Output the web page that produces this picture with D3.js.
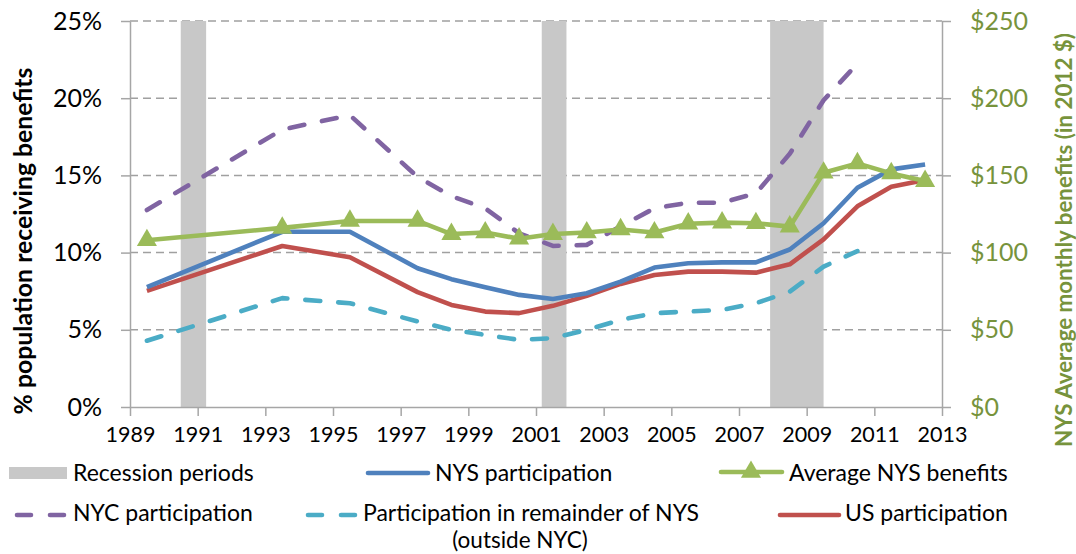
<!DOCTYPE html>
<html><head><meta charset="utf-8">
<script src="https://cdn.jsdelivr.net/npm/d3@7"></script>
<style>
body{margin:0;background:#fff}
text{font-family:Lato,"Open Sans",sans-serif}
</style>
</head><body>
<svg id="c" width="1076" height="554"></svg>
<script>
// ---------------- data ----------------
const years = [1989, 1993, 1995, 1997, 1998, 1999, 2000, 2001, 2002, 2003, 2004, 2005, 2006, 2007, 2008, 2009, 2010, 2011, 2012];
const nysParticipation = [7.76, 11.35, 11.35, 8.99, 8.28, 7.76, 7.26, 7.0, 7.37, 8.12, 9.03, 9.31, 9.37, 9.37, 10.2, 11.9, 14.2, 15.39, 15.7];
const usParticipation  = [7.52, 10.43, 9.7, 7.44, 6.61, 6.18, 6.08, 6.55, 7.2, 7.97, 8.55, 8.77, 8.77, 8.7, 9.24, 10.86, 13.0, 14.26, 14.7];
const nycParticipation = [12.76, 17.97, 18.9, 14.9, 13.66, 12.87, 11.25, 10.43, 10.5, 11.7, 12.87, 13.23, 13.23, 13.84, 16.4, 19.87, 22.24, null, null];
const remainderParticipation = [4.29, 7.05, 6.72, 5.54, 5.0, 4.67, 4.35, 4.46, 5.0, 5.64, 6.08, 6.18, 6.29, 6.72, 7.47, 9.09, 10.1, null, null];
const avgBenefits = [108, 116, 120.5, 120.5, 112, 113, 109, 112, 113, 115, 113, 118.7, 119.4, 119, 116.8, 151.7, 157.8, 151.3, 146.3];
const recessions = [[1990.5, 1991.25], [2001.17, 2001.9], [2007.92, 2009.5]];
const xTicks = [1989, 1991, 1993, 1995, 1997, 1999, 2001, 2003, 2005, 2007, 2009, 2011, 2013];
const leftTicks = [0, 5, 10, 15, 20, 25];
const rightTicks = [0, 50, 100, 150, 200, 250];

// ---------------- styles ----------------
const C = {blue:"#4f81bd", red:"#c0504d", green:"#9bbb59", purple:"#8064a2", teal:"#4bacc6",
           rec:"#c8c8c8", axis:"#a6a6a6", grid:"#a0a0a0", dkgreen:"#77933c"};
const DASH = "15,18";

const svg = d3.select("#c");
const x = d3.scaleLinear().domain([1989, 2013]).range([130, 942]);
const yL = d3.scaleLinear().domain([0, 25]).range([407, 21]);
const yR = d3.scaleLinear().domain([0, 250]).range([407, 21]);
const mid = y => y + 0.5;

// gridlines
svg.append("g").selectAll("line").data(leftTicks.filter(d => d > 0)).join("line")
  .attr("x1", x.range()[0]).attr("x2", x.range()[1])
  .attr("y1", d => yL(d)).attr("y2", d => yL(d))
  .attr("stroke", C.grid).attr("stroke-width", 1.5).attr("stroke-dasharray", "8,5");

// recession bars
svg.append("g").selectAll("rect").data(recessions).join("rect")
  .attr("x", d => x(d[0])).attr("width", d => x(d[1]) - x(d[0]))
  .attr("y", yL(25)).attr("height", yL(0) - yL(25)).attr("fill", C.rec);

// axes
function styleAxis(g, size, color) {
  g.selectAll(".domain").attr("stroke", C.axis).attr("stroke-width", 1.5);
  g.selectAll(".tick line").attr("stroke", C.axis).attr("stroke-width", 1.5);
  g.selectAll(".tick text").attr("font-size", size).attr("fill", color).style("font-family", "Lato");
}
svg.append("g").attr("transform", `translate(${x.range()[0]},0)`)
  .call(d3.axisLeft(yL).tickValues(leftTicks).tickFormat(d => d + "%").tickSize(9).tickSizeOuter(0).tickPadding(19))
  .call(g => styleAxis(g, 25, "#000"));
svg.append("g").attr("transform", `translate(${x.range()[1]},0)`)
  .call(d3.axisRight(yR).tickValues(rightTicks).tickFormat(d => "$" + d).tickSize(9).tickSizeOuter(0).tickPadding(19))
  .call(g => styleAxis(g, 25, C.dkgreen));
svg.append("g").attr("transform", `translate(0,${yL(0)})`)
  .call(d3.axisBottom(x).tickValues(xTicks).tickFormat(d3.format("d")).tickSize(9).tickSizeOuter(0).tickPadding(11))
  .call(g => styleAxis(g, 21.5, "#000"));

// lines
function series(vals) { return years.map((yr, i) => [yr, vals[i]]); }
function drawLine(vals, yScale, color, dashed) {
  const line = d3.line().defined(d => d[1] != null).x(d => x(mid(d[0]))).y(d => yScale(d[1]));
  svg.append("path").datum(series(vals)).attr("d", line)
    .attr("fill", "none").attr("stroke", color).attr("stroke-width", 4.6)
    .attr("stroke-linejoin", "round").attr("stroke-linecap", dashed ? "round" : "butt")
    .attr("stroke-dasharray", dashed ? DASH : null);
}
drawLine(nycParticipation, yL, C.purple, true);
drawLine(remainderParticipation, yL, C.teal, true);
drawLine(usParticipation, yL, C.red, false);
drawLine(nysParticipation, yL, C.blue, false);
drawLine(avgBenefits, yR, C.green, false);
const tri = d3.symbol().type(d3.symbolTriangle).size(175);
svg.append("g").selectAll("path").data(series(avgBenefits)).join("path")
  .attr("d", tri).attr("transform", d => `translate(${x(mid(d[0]))},${yR(d[1])})`)
  .attr("fill", C.green);

// axis titles
function fit(t, target) {
  const fs = parseFloat(t.attr("font-size"));
  const w = t.node().getComputedTextLength();
  t.attr("font-size", fs * target / w);
}
const lt = svg.append("text").attr("transform", "translate(32,241) rotate(-90)")
  .attr("text-anchor", "middle").attr("font-weight", "bold").attr("font-size", 24)
  .attr("fill", "#000").text("% population receiving benefits");
fit(lt, 347);
const rt = svg.append("text").attr("transform", "translate(1072,240) rotate(-90)")
  .attr("text-anchor", "middle").attr("font-weight", "bold").attr("font-size", 24)
  .attr("fill", C.dkgreen).text("NYS Average monthly benefits (in 2012 $)");
fit(rt, 414);

// legend
const lg = svg.append("g").attr("font-size", 23).attr("fill", "#000");
function legText(tx, ty, s) { lg.append("text").attr("x", tx).attr("y", ty).attr("dy", "0.35em").text(s); }
// row 1
lg.append("rect").attr("x", 9).attr("y", 467).attr("width", 58).attr("height", 12).attr("fill", C.rec);
legText(73, 473, "Recession periods");
lg.append("line").attr("x1", 368).attr("x2", 428).attr("y1", 473).attr("y2", 473).attr("stroke", C.blue).attr("stroke-width", 4.6).attr("stroke-linecap", "round");
legText(435, 473, "NYS participation");
lg.append("line").attr("x1", 721).attr("x2", 782).attr("y1", 472).attr("y2", 472).attr("stroke", C.green).attr("stroke-width", 4.6).attr("stroke-linecap", "round");
lg.append("path").attr("d", tri).attr("transform", "translate(751,472)").attr("fill", C.green);
legText(789, 473, "Average NYS benefits");
// row 2
lg.append("line").attr("x1", 17).attr("x2", 66).attr("y1", 515).attr("y2", 515).attr("stroke", C.purple).attr("stroke-width", 4.6).attr("stroke-linecap", "round").attr("stroke-dasharray", "14,19");
legText(73, 513, "NYC participation");
lg.append("line").attr("x1", 308).attr("x2", 356).attr("y1", 515).attr("y2", 515).attr("stroke", C.teal).attr("stroke-width", 4.6).attr("stroke-linecap", "round").attr("stroke-dasharray", "14,19");
legText(363, 513, "Participation in remainder of NYS");
lg.append("text").attr("x", 520).attr("y", 540).attr("dy", "0.35em").attr("font-size", 22.5).attr("text-anchor", "middle").text("(outside NYC)");
lg.append("line").attr("x1", 780).attr("x2", 839).attr("y1", 515).attr("y2", 515).attr("stroke", C.red).attr("stroke-width", 4.6).attr("stroke-linecap", "round");
legText(845, 513, "US participation");
</script>
</body></html>
